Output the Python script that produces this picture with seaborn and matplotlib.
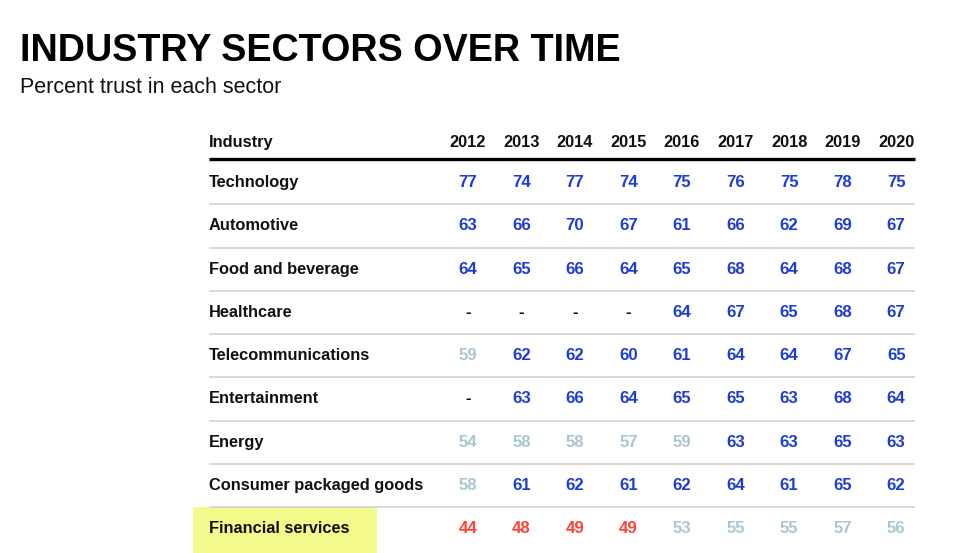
import numpy as np
import pandas as pd
import matplotlib
matplotlib.use("Agg")
import matplotlib.pyplot as plt
import matplotlib.transforms as mtrans
from matplotlib.colors import ListedColormap
from matplotlib.patches import Rectangle
import seaborn as sns

# ---------------- data ----------------
title = "INDUSTRY SECTORS OVER TIME"
subtitle = "Percent trust in each sector"
header_label = "Industry"
years = ["2012", "2013", "2014", "2015", "2016", "2017", "2018", "2019", "2020"]
industries = ["Technology", "Automotive", "Food and beverage", "Healthcare",
              "Telecommunications", "Entertainment", "Energy",
              "Consumer packaged goods", "Financial services"]
technology = [77, 74, 77, 74, 75, 76, 75, 78, 75]
automotive = [63, 66, 70, 67, 61, 66, 62, 69, 67]
food_beverage = [64, 65, 66, 64, 65, 68, 64, 68, 67]
healthcare = [None, None, None, None, 64, 67, 65, 68, 67]
telecom = [59, 62, 62, 60, 61, 64, 64, 67, 65]
entertainment = [None, 63, 66, 64, 65, 65, 63, 68, 64]
energy = [54, 58, 58, 57, 59, 63, 63, 65, 63]
cpg = [58, 61, 62, 61, 62, 64, 61, 65, 62]
financial = [44, 48, 49, 49, 53, 55, 55, 57, 56]
highlight_row = "Financial services"

# ---------------- style ----------------
BLUE = "#1d3cd6"
LIGHT = "#a9c7d3"
RED = "#fb4636"
YELLOW = "#f4f98c"
GRID = "#cfcfcf"

sns.set_theme(style="white")
plt.rcParams["font.family"] = ["Liberation Sans", "DejaVu Sans"]

W, H = 960, 553
fig = plt.figure(figsize=(W / 100, H / 100), dpi=100)
fig.patch.set_facecolor("white")

# table geometry in pixels
LEFT_PX, RIGHT_PX = 209, 915
GRID_L, GRID_R = 441, 923
TOP_PX, ROW_H = 161.0, 43.25
n_rows, n_cols = len(industries), len(years)
bottom_px = TOP_PX + n_rows * ROW_H
ax = fig.add_axes([GRID_L / W, 1 - bottom_px / H, (GRID_R - GRID_L) / W, (bottom_px - TOP_PX) / H])
col_w = (GRID_R - GRID_L) / n_cols

df = pd.DataFrame([technology, automotive, food_beverage, healthcare, telecom,
                   entertainment, energy, cpg, financial],
                  index=industries, columns=years, dtype=float)
labels = df.apply(lambda c: c.map(lambda v: "-" if pd.isna(v) else f"{int(v)}"))

FS = 11.8
sns.heatmap(df.fillna(0), ax=ax, cmap=ListedColormap(["white"]), cbar=False,
            annot=labels.values, fmt="", linewidths=0,
            annot_kws=dict(fontsize=12.1, fontweight="bold"))

def colour(v):
    if pd.isna(v):
        return "#111111"
    if v < 50:
        return RED
    if v < 60:
        return LIGHT
    return BLUE

for txt, v in zip(ax.texts, df.values.flat):
    txt.set_color(colour(v))

# header (years) on top
ax.xaxis.tick_top()
ax.set_xticklabels(years, fontsize=FS, fontweight="bold", color="#111111", rotation=0)
ax.tick_params(axis="x", length=0, pad=7.6)
# industry names on left, left-aligned
pad_pt = (GRID_L - LEFT_PX) * 72 / 100
ax.set_yticklabels(industries, fontsize=FS, fontweight="bold", color="#111111",
                   rotation=0, ha="left")
ax.tick_params(axis="y", length=0, pad=pad_pt)
ax.set_xlabel("")
ax.set_ylabel("")

x_left = (LEFT_PX - GRID_L) / col_w
x_right = (RIGHT_PX - GRID_L) / col_w
trans = mtrans.blended_transform_factory(ax.transData, ax.transAxes)
ax.text(x_left, 1.0, header_label, transform=mtrans.offset_copy(trans, fig=fig, y=7.6, units="points"),
        ha="left", va="bottom", fontsize=FS, fontweight="bold", color="#111111")

# rules
ax.hlines(np.arange(1, n_rows), x_left, x_right, colors=GRID, lw=1.1, clip_on=False, zorder=3)
ax.hlines([-0.04], x_left, x_right, colors="#000000", lw=2.4, clip_on=False, zorder=3)

# highlight box
hi = industries.index(highlight_row)
rect = Rectangle(((193 - GRID_L) / col_w, hi + (507 - (TOP_PX + hi * ROW_H)) / ROW_H),
                 (377 - 193) / col_w, 1.2, facecolor=YELLOW, edgecolor="none",
                 clip_on=False, zorder=0.5)
ax.add_patch(rect)

# titles
fig.text(20 / W, 1 - 61 / H, title, fontsize=27.2, fontweight="bold", color="#000000", va="baseline")
fig.text(20 / W, 1 - 93 / H, subtitle, fontsize=15.5, color="#111111", va="baseline")

fig.savefig("out.png", dpi=100, facecolor="white")
